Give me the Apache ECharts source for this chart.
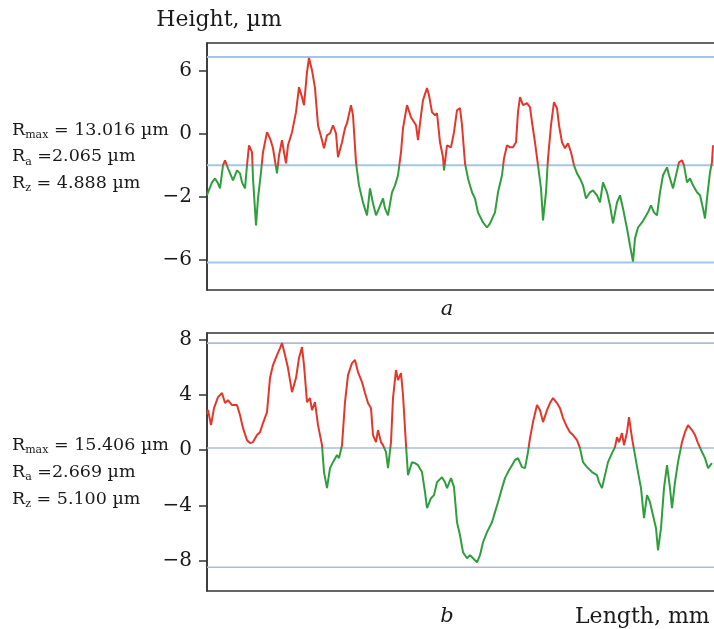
<!DOCTYPE html>
<html>
<head>
<meta charset="utf-8">
<script src="https://cdn.jsdelivr.net/npm/echarts@6/dist/echarts.min.js"></script>
<style>html,body{margin:0;padding:0;background:#fff;overflow:hidden;}#c{width:714px;height:629px;}</style>
</head>
<body>
<div id="c"></div>
<script>
// Profile a: [length (arbitrary mm), height (µm from mean line)]
const profileA = [[0.00,-1.90],[0.01,-1.71],[0.05,-1.08],[0.08,-0.83],[0.11,-1.14],[0.13,-1.46],[0.16,0],[0.18,0.32],[0.21,-0.19],[0.26,-0.95],[0.30,-0.32],[0.33,-0.51],[0.35,-1.08],[0.38,-1.46],[0.40,0],[0.42,1.27],[0.45,0.83],[0.46,-0.83],[0.49,-3.81],[0.51,-2.10],[0.54,-0.44],[0.56,0.83],[0.60,2.10],[0.63,1.71],[0.66,1.08],[0.70,-0.51],[0.72,0.63],[0.75,1.59],[0.77,0.83],[0.79,0.13],[0.81,1.27],[0.85,2.10],[0.89,3.37],[0.92,4.95],[0.95,4.32],[0.97,3.81],[1.00,5.90],[1.02,6.80],[1.05,6.03],[1.08,4.89],[1.11,2.54],[1.15,1.59],[1.17,1.08],[1.20,1.90],[1.23,2.03],[1.26,2.54],[1.29,2.03],[1.31,0.51],[1.35,1.46],[1.38,2.35],[1.40,2.67],[1.44,3.81],[1.46,3.17],[1.49,0.19],[1.52,-1.27],[1.56,-2.35],[1.60,-3.17],[1.63,-1.46],[1.66,-2.41],[1.69,-3.17],[1.72,-2.73],[1.76,-2.10],[1.78,-2.73],[1.81,-3.17],[1.85,-1.71],[1.88,-1.27],[1.91,-0.63],[1.94,0.83],[1.96,2.35],[2.00,3.81],[2.04,3.05],[2.06,3.17],[2.09,2.54],[2.11,1.59],[2.14,3.17],[2.16,4.13],[2.20,4.89],[2.22,4.44],[2.25,3.37],[2.28,3.17],[2.30,3.30],[2.33,1.46],[2.36,0.51],[2.37,-0.32],[2.40,1.27],[2.44,1.14],[2.47,2.10],[2.50,3.49],[2.53,3.62],[2.55,2.54],[2.58,0.13],[2.61,-0.83],[2.65,-1.71],[2.68,-2.10],[2.71,-2.98],[2.76,-3.62],[2.80,-3.94],[2.83,-3.68],[2.88,-2.98],[2.91,-1.71],[2.95,-0.63],[2.97,0.44],[3.00,1.27],[3.03,1.14],[3.06,1.14],[3.09,1.46],[3.11,3.37],[3.13,4.32],[3.16,3.81],[3.20,3.94],[3.23,3.68],[3.25,2.73],[3.28,1.46],[3.31,0],[3.34,-1.46],[3.36,-3.49],[3.39,-1.71],[3.41,0.44],[3.44,2.54],[3.47,4.00],[3.50,3.62],[3.52,2.54],[3.55,1.46],[3.58,1.08],[3.61,1.40],[3.64,0.83],[3.67,0],[3.70,-0.51],[3.73,-0.83],[3.76,-1.27],[3.79,-2.10],[3.83,-1.71],[3.86,-1.59],[3.90,-1.90],[3.93,-2.35],[3.96,-1.08],[4.00,-1.71],[4.03,-2.54],[4.06,-3.68],[4.10,-2.35],[4.13,-1.90],[4.16,-2.73],[4.20,-4.00],[4.23,-5.08],[4.26,-6.10],[4.28,-4.63],[4.31,-3.94],[4.35,-3.62],[4.38,-3.30],[4.41,-2.98],[4.44,-2.54],[4.47,-2.98],[4.50,-3.17],[4.53,-1.71],[4.56,-0.63],[4.60,-0.13],[4.62,-0.63],[4.66,-1.46],[4.69,-0.63],[4.72,0.19],[4.75,0.32],[4.77,0],[4.80,-1.08],[4.83,-0.83],[4.86,-1.27],[4.90,-1.71],[4.93,-1.90],[4.96,-2.73],[4.98,-3.37],[5.00,-2.10],[5.03,-0.44],[5.05,0.19],[5.06,1.27]];

// Profile b
const profileB = [[0.00,2.60],[0.01,2.90],[0.04,1.81],[0.07,3.04],[0.11,3.84],[0.15,4.13],[0.18,3.41],[0.21,3.62],[0.25,3.26],[0.30,3.26],[0.33,2.54],[0.36,1.59],[0.40,0.72],[0.43,0.51],[0.46,0.58],[0.50,1.09],[0.53,1.30],[0.56,1.96],[0.60,2.75],[0.63,5.22],[0.66,6.16],[0.70,6.88],[0.73,7.39],[0.75,7.75],[0.78,6.88],[0.81,5.94],[0.85,4.20],[0.89,5.22],[0.92,6.67],[0.95,7.46],[0.97,6.16],[1.00,3.48],[1.03,3.77],[1.05,2.90],[1.08,3.48],[1.11,1.81],[1.15,0.36],[1.17,-1.59],[1.20,-2.75],[1.23,-1.30],[1.26,-0.87],[1.30,-0.36],[1.32,-0.58],[1.35,0.36],[1.38,3.48],[1.41,5.43],[1.45,6.30],[1.48,6.52],[1.51,5.65],[1.55,4.93],[1.58,4.13],[1.61,3.41],[1.64,3.04],[1.66,1.09],[1.69,0.58],[1.71,1.45],[1.74,0.58],[1.76,0.36],[1.79,-0.14],[1.81,-1.30],[1.84,0.58],[1.86,3.77],[1.89,5.80],[1.91,5.07],[1.94,5.58],[1.96,3.99],[1.99,0.36],[2.01,-1.81],[2.05,-0.87],[2.08,-0.94],[2.11,-1.09],[2.15,-1.59],[2.18,-3.04],[2.20,-4.20],[2.24,-3.48],[2.27,-3.26],[2.30,-2.32],[2.35,-1.96],[2.38,-2.32],[2.40,-2.75],[2.44,-2.03],[2.47,-2.68],[2.50,-5.22],[2.53,-6.16],[2.56,-7.39],[2.60,-7.83],[2.63,-7.61],[2.66,-7.83],[2.70,-8.12],[2.73,-7.61],[2.76,-6.67],[2.80,-5.94],[2.85,-5.22],[2.88,-4.49],[2.91,-3.77],[2.95,-2.75],[2.98,-2.03],[3.01,-1.59],[3.05,-1.09],[3.08,-0.72],[3.11,-0.58],[3.15,-1.23],[3.18,-1.30],[3.21,-0.14],[3.23,0.87],[3.26,2.03],[3.30,3.26],[3.33,2.90],[3.36,2.03],[3.40,2.90],[3.43,3.41],[3.46,3.77],[3.50,3.41],[3.53,3.04],[3.56,2.32],[3.60,1.67],[3.63,1.30],[3.66,1.09],[3.70,0.72],[3.73,0.14],[3.76,-0.87],[3.80,-1.23],[3.85,-1.59],[3.90,-1.81],[3.92,-2.32],[3.95,-2.75],[3.98,-1.81],[4.01,-0.87],[4.05,-0.22],[4.08,0.22],[4.10,0.94],[4.12,0.58],[4.15,1.23],[4.17,0.36],[4.20,1.30],[4.22,2.39],[4.25,0.87],[4.28,-0.36],[4.31,-1.59],[4.34,-2.75],[4.37,-4.93],[4.40,-3.26],[4.43,-3.77],[4.46,-4.71],[4.49,-5.65],[4.51,-7.25],[4.54,-5.65],[4.57,-2.75],[4.60,-1.09],[4.63,-2.75],[4.65,-4.20],[4.68,-2.32],[4.71,-0.87],[4.75,0.58],[4.78,1.30],[4.81,1.81],[4.85,1.45],[4.88,1.09],[4.91,0.51],[4.95,-0.14],[4.98,-0.58],[5.01,-1.30],[5.05,-0.94]];

// Reference levels (peak line, mean line, valley line), µm
const levelsA = [6.86, 0, -6.16];
const levelsB = [7.75, 0.15, -8.48];

// Y tick positions and their printed labels (as in the figure)
const tickValsA = [6, 2, -2, -6];
const tickLabelsA = ['6', '0', '\u22122', '\u22126'];
const tickValsB = [8, 4, 0, -4, -8];
const tickLabelsB = ['8', '4', '0', '\u22124', '\u22128'];

// Roughness parameter text
const statsA = [['max', '= 13.016 \u00b5m'], ['a', '=2.065 \u00b5m'], ['z', '= 4.888 \u00b5m']];
const statsB = [['max', '= 15.406 \u00b5m'], ['a', '=2.669 \u00b5m'], ['z', '= 5.100 \u00b5m']];

const RED = '#e2372b', GREEN = '#2f9e3c', BLUE = '#a3c6e6';
const FONT = 'DejaVu Serif';
const INK = '#1a1a1a';
const XMAX = 5.2;

const grids = [
  { left: 207, top: 43, width: 520, height: 247 },
  { left: 207, top: 333, width: 520, height: 258 }
];
const yRanges = [[-7.9, 7.75], [-10.2, 8.48]];

function yAxisCfg(grid, vals, labels) {
  return {
    type: 'value', gridIndex: grid, min: yRanges[grid][0], max: yRanges[grid][1],
    axisLine: { show: true, lineStyle: { color: '#333', width: 1.5 } },
    axisTick: { show: true, length: 8, customValues: vals, lineStyle: { color: '#333', width: 1.5 } },
    axisLabel: { customValues: vals, margin: 15, color: INK, fontFamily: FONT, fontSize: 20,
      formatter: function (v) { const i = vals.indexOf(v); return i >= 0 ? labels[i] : ''; } },
    splitLine: { show: false }
  };
}
function xAxisCfg(grid) {
  return { type: 'value', gridIndex: grid, min: 0, max: XMAX, show: false };
}
function levelSeries(grid, levels, color, width) {
  return levels.map(function (L) {
    return { type: 'line', xAxisIndex: grid, yAxisIndex: grid, data: [[0, L], [XMAX, L]],
      symbol: 'none', silent: true, lineStyle: { color: color, width: width }, z: 1 };
  });
}
function statGraphics(stats, y0, dy) {
  return stats.map(function (s, i) {
    return { type: 'text', x: 12, y: y0 + i * dy,
      style: { text: '{r|R}{s|' + s[0] + '}{r| ' + s[1] + '}',
        verticalAlign: 'middle', align: 'left',
        rich: {
          r: { fontFamily: FONT, fontSize: 17.5, lineHeight: 22, verticalAlign: 'middle', fill: INK },
          s: { fontFamily: FONT, fontSize: 11, lineHeight: 11, verticalAlign: 'bottom', fill: INK }
        } } };
  });
}

// Split colour: red above the mean line, green below (global pixel gradient from the axis scale)
function splitColor(gridIdx, meanLevel) {
  const g = grids[gridIdx];
  const yMean = chart.convertToPixel({ gridIndex: gridIdx }, [0, meanLevel])[1];
  const t = (yMean - g.top) / g.height;
  return new echarts.graphic.LinearGradient(0, g.top, 0, g.top + g.height, [
    { offset: 0, color: RED }, { offset: t, color: RED },
    { offset: t, color: GREEN }, { offset: 1, color: GREEN }
  ], true);
}

const chart = echarts.init(document.getElementById('c'), null, { renderer: 'canvas' });
chart.setOption({
  animation: false,
  backgroundColor: '#fff',
  grid: grids.map(function (g) {
    return Object.assign({ show: true, borderColor: '#333', borderWidth: 1.5, backgroundColor: 'transparent',
      outerBoundsMode: 'none', containLabel: false }, g);
  }),
  xAxis: [xAxisCfg(0), xAxisCfg(1)],
  yAxis: [yAxisCfg(0, tickValsA, tickLabelsA), yAxisCfg(1, tickValsB, tickLabelsB)],
  series: [].concat(
    levelSeries(0, levelsA, BLUE, 2),
    levelSeries(1, levelsB, '#a9bdd8', 1.6),
    [
      { id: 'pa', type: 'line', xAxisIndex: 0, yAxisIndex: 0, data: profileA, symbol: 'none', lineStyle: { width: 2, color: RED }, z: 3 },
      { id: 'pb', type: 'line', xAxisIndex: 1, yAxisIndex: 1, data: profileB, symbol: 'none', lineStyle: { width: 2, color: RED }, z: 3 }
    ]
  ),
  graphic: [].concat(
    [
      { type: 'text', x: 219, y: 20, style: { text: 'Height, \u00b5m', align: 'center', verticalAlign: 'middle', fontFamily: FONT, fontSize: 22, fill: INK } },
      { type: 'text', x: 447, y: 310, style: { text: 'a', align: 'center', verticalAlign: 'middle', fontFamily: FONT, fontStyle: 'italic', fontSize: 21, fill: INK } },
      { type: 'text', x: 447, y: 617, style: { text: 'b', align: 'center', verticalAlign: 'middle', fontFamily: FONT, fontStyle: 'italic', fontSize: 21, fill: INK } },
      { type: 'text', x: 575, y: 617, style: { text: 'Length, mm', align: 'left', verticalAlign: 'middle', fontFamily: FONT, fontSize: 22, fill: INK } }
    ],
    statGraphics(statsA, 130, 26.5),
    statGraphics(statsB, 445, 27)
  )
});
chart.setOption({
  series: [
    { id: 'pa', lineStyle: { color: splitColor(0, levelsA[1]) } },
    { id: 'pb', lineStyle: { color: splitColor(1, levelsB[1]) } }
  ]
});
</script>
</body>
</html>
